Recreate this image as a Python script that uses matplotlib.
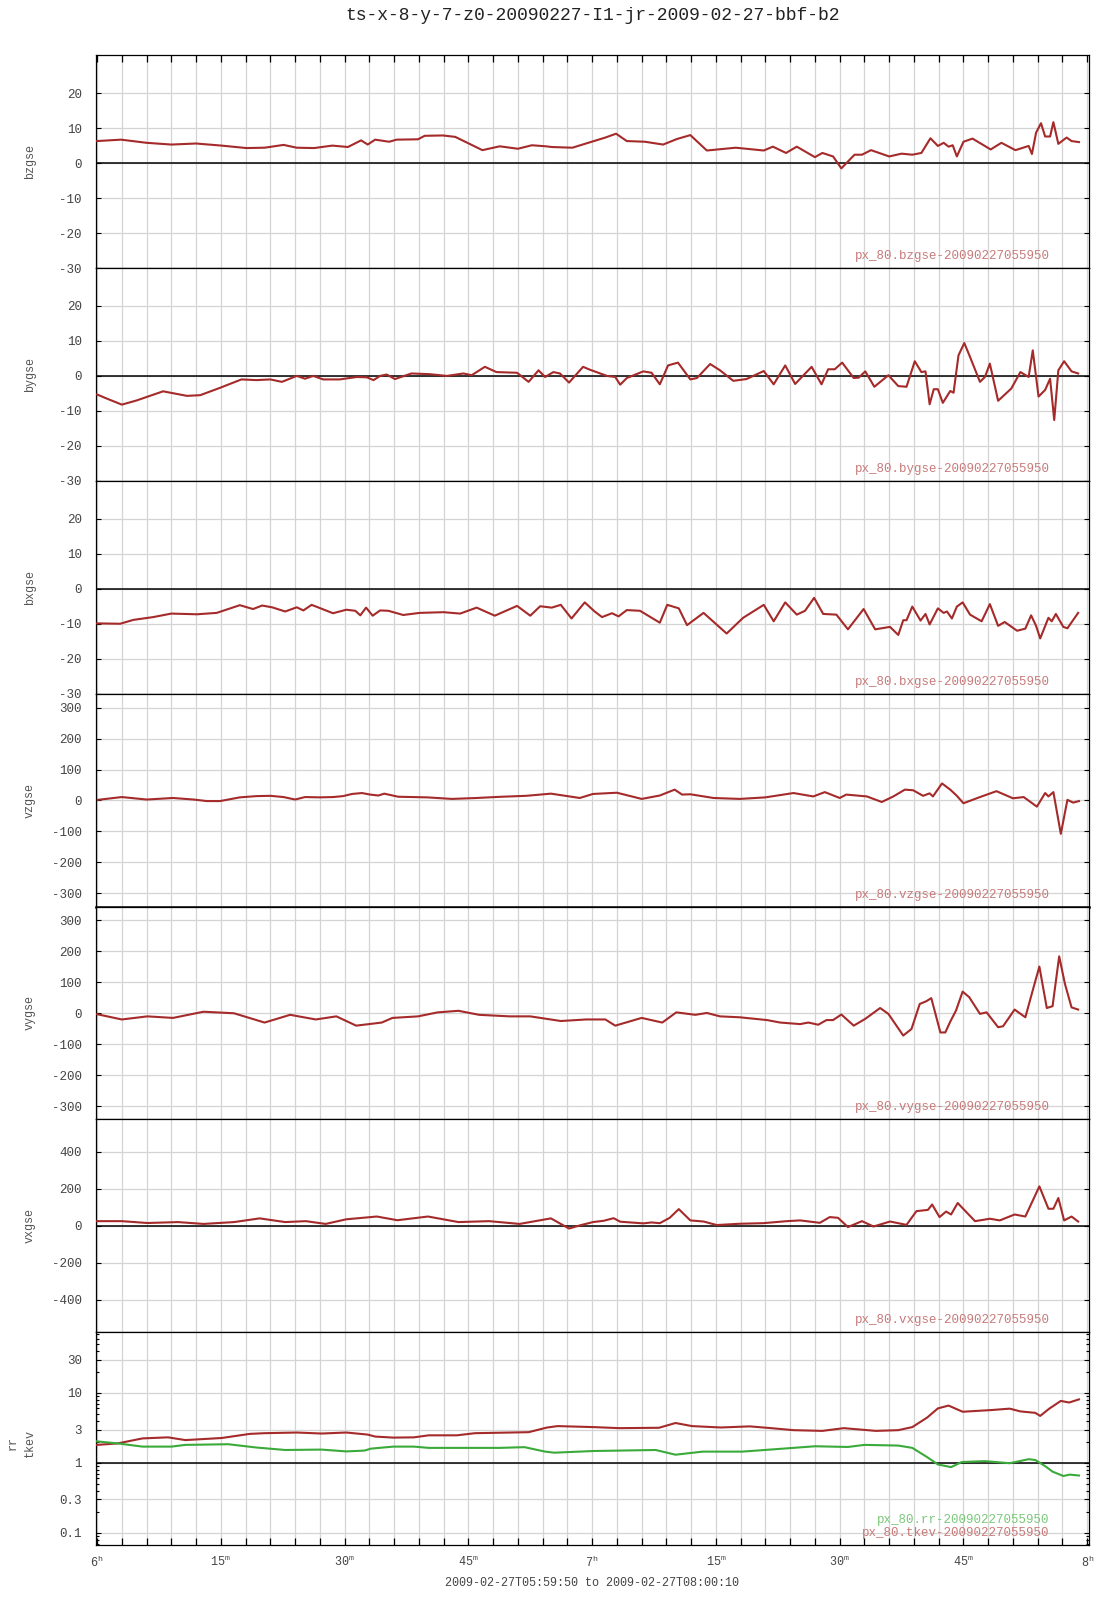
import matplotlib
matplotlib.use('Agg')
import matplotlib.pyplot as plt
import numpy as np
from matplotlib.ticker import FixedLocator, NullFormatter, NullLocator

plt.rcParams['font.family'] = ['Liberation Mono', 'DejaVu Sans Mono']
plt.rcParams['mathtext.fontset'] = 'custom'
plt.rcParams['mathtext.rm'] = 'Liberation Mono'
plt.rcParams['mathtext.it'] = 'Liberation Mono'

TITLE = "ts-x-8-y-7-z0-20090227-I1-jr-2009-02-27-bbf-b2"
XLABEL = "2009-02-27T05:59:50 to 2009-02-27T08:00:10"
XLIM = (-10 / 60, 120 + 10 / 60)   # minutes after 06:00
XMAJOR = [0, 15, 30, 45, 60, 75, 90, 105, 120]
XMAJOR_LABELS = [r"6$^{\mathrm{h}}$", r"15$^{\mathrm{m}}$", r"30$^{\mathrm{m}}$", r"45$^{\mathrm{m}}$",
                 r"7$^{\mathrm{h}}$", r"15$^{\mathrm{m}}$", r"30$^{\mathrm{m}}$", r"45$^{\mathrm{m}}$",
                 r"8$^{\mathrm{h}}$"]
XGRID_STEP = 3

# (minutes after 06:00, value)
bzgse = [(0, 6.3), (2.9, 6.7), (6, 5.8), (9, 5.3), (12, 5.6), (15.1, 5.0), (18.1, 4.3), (20.3, 4.4),
         (22.6, 5.2), (24.2, 4.4), (26.3, 4.3), (28.5, 5.0), (30.4, 4.6), (32, 6.5), (32.8, 5.3),
         (33.7, 6.7), (35.4, 6.1), (36.3, 6.7), (38.9, 6.8), (39.7, 7.8), (41.9, 7.9), (43.4, 7.5),
         (46.7, 3.7), (48.8, 4.8), (51, 4.1), (52.7, 5.1), (54.4, 4.8), (55.1, 4.6), (57.6, 4.4),
         (61.6, 7.3), (62.9, 8.4), (64.2, 6.3), (66.4, 6.1), (68.6, 5.3), (70.3, 6.9), (71.9, 8.0),
         (73.9, 3.6), (77.4, 4.4), (80.8, 3.6), (81.9, 4.7), (83.5, 2.9), (84.8, 4.7), (87, 1.7),
         (87.9, 2.9), (89.2, 1.9), (90.2, -1.5), (91.8, 2.4), (92.7, 2.4), (93.8, 3.7), (96, 1.9),
         (97.5, 2.7), (98.8, 2.4), (99.9, 2.9), (101, 7.1), (101.9, 4.9), (102.6, 5.8), (103.2, 4.7),
         (103.7, 5.1), (104.2, 1.9), (105, 6.1), (106.1, 7.0), (108.3, 3.9), (109.6, 5.8), (111.3, 3.7),
         (112.9, 4.9), (113.3, 2.6), (113.8, 8.7), (114.4, 11.4), (114.9, 7.6), (115.5, 7.6),
         (115.9, 11.7), (116.5, 5.5), (117.5, 7.3), (118.1, 6.3), (119, 6.0)]

bygse = [(0, -5.3), (1, -6.3), (3, -8.2), (4.8, -7), (8, -4.4), (10.9, -5.7), (12.5, -5.5), (14.9, -3.4),
         (17.5, -1), (19.3, -1.2), (21, -1), (22.4, -1.7), (24.2, 0), (25.2, -0.8), (26.2, 0), (27.4, -1),
         (29.4, -1), (31.5, -0.3), (32.7, -0.4), (33.5, -1.2), (34.3, 0), (35.1, 0.4), (36.1, -0.9),
         (38.1, 0.7), (40.3, 0.5), (42.4, 0), (44.4, 0.7), (45.4, 0.2), (47, 2.6), (48.4, 1.1), (50.9, 0.9),
         (52.3, -1.7), (53.5, 1.6), (54.3, -0.3), (55.3, 1.1), (56.1, 0.7), (57.2, -1.9), (58.9, 2.6),
         (59.7, 1.8), (61.8, 0), (62.8, -0.3), (63.4, -2.5), (64.2, -0.6), (66.2, 1.3), (67.2, 0.9),
         (68.2, -2.4), (69.2, 3.0), (70.4, 3.8), (71.9, -1), (72.7, -0.6), (74.3, 3.4), (75.5, 1.6),
         (77.1, -1.4), (78.7, -0.9), (80.8, 1.4), (82, -2.4), (83.4, 3.0), (84.6, -2.3), (86.6, 2.6),
         (87.8, -2.4), (88.6, 1.9), (89.4, 1.9), (90.3, 3.8), (91.7, -0.6), (92.3, -0.5), (93.1, 1.3),
         (94.2, -3.1), (95.9, 0.2), (97.1, -2.9), (98.1, -3.1), (99.1, 4.2), (99.9, 1.1), (100.4, 1.3),
         (100.9, -8.1), (101.4, -3.8), (101.9, -3.8), (102.5, -7.7), (103.4, -4.3), (103.8, -4.8),
         (104.4, 5.9), (105.1, 9.4), (105.8, 5.4), (107, -1.7), (107.6, -0.3), (108.2, 3.5), (109.2, -7.1),
         (110.8, -3.6), (111.9, 1.1), (112.9, -0.3), (113.4, 7.3), (114.1, -5.9), (114.9, -4),
         (115.5, -0.8), (116, -12.6), (116.5, 1.6), (117.2, 4.2), (118.1, 1.3), (118.9, 0.7)]

bxgse = [(0, -9.9), (2.8, -10), (4.4, -8.9), (6.8, -8.1), (9, -7.1), (12.1, -7.3), (14.5, -6.9),
         (17.3, -4.7), (18.9, -5.8), (20, -4.8), (21.2, -5.3), (22.8, -6.5), (24.2, -5.3), (25, -6.2),
         (26, -4.6), (28.6, -7), (30.2, -6), (31.3, -6.3), (31.9, -7.6), (32.6, -5.4), (33.4, -7.7),
         (34.3, -6.2), (35.3, -6.3), (37.1, -7.5), (39.1, -6.9), (42, -6.7), (44, -7.1), (46, -5.4),
         (48.2, -7.7), (50.9, -4.9), (52.5, -7.7), (53.7, -5), (55.1, -5.4), (56.2, -4.6), (57.5, -8.5),
         (59.1, -3.9), (60.3, -6.5), (61.2, -8.1), (62.4, -7), (63.2, -7.9), (64.2, -6.1), (65.8, -6.3),
         (68.2, -9.7), (69.1, -4.6), (70.5, -5.6), (71.5, -10.4), (73.5, -6.9), (76.3, -12.8),
         (78.3, -8.3), (80.8, -4.6), (82, -9.3), (83.4, -3.9), (84.8, -7.4), (85.8, -6.3), (86.9, -2.6),
         (88, -7.2), (89.6, -7.4), (91, -11.6), (92.9, -5.8), (94.3, -11.6), (96.1, -10.9), (97.1, -13.2),
         (97.7, -9), (98.1, -9), (98.8, -5.1), (99.8, -9.1), (100.4, -7.2), (100.9, -10.2), (101.9, -5.6),
         (102.6, -6.9), (103, -6.5), (103.6, -8.5), (104.2, -5.1), (104.9, -3.9), (105.8, -7.4),
         (107.2, -9.3), (108.2, -4.4), (109.2, -10.6), (110, -9.5), (111.5, -12), (112.5, -11.4),
         (113.2, -7.6), (113.8, -10.6), (114.3, -14.2), (115.3, -8.3), (115.7, -9.3), (116.2, -7.2),
         (117.1, -10.9), (117.6, -11.3), (118.9, -6.9)]

vzgse = [(0.1, 2), (3, 11), (6, 3), (9.2, 8), (11.7, 3), (13.3, -2), (14.9, -2), (17.3, 10), (19.3, 14),
         (21, 15), (22.6, 11), (24, 3), (25.2, 11), (27, 10), (28.6, 11), (29.8, 14), (30.9, 21),
         (32.1, 24), (33.1, 19), (34.1, 16), (34.8, 22), (36.5, 12), (40, 10), (43, 5), (46, 8), (49, 12),
         (52, 15), (55, 22), (58.5, 8), (60.1, 21), (63, 25), (66, 5), (68.2, 16), (70, 35), (70.9, 19),
         (71.9, 20), (74.7, 8), (77.9, 5), (81, 10), (84.4, 24), (86.8, 13), (88.2, 27), (90, 8),
         (90.8, 19), (93.3, 13), (95.1, -5), (96.5, 13), (97.9, 35), (98.9, 33), (100.1, 15), (100.9, 23),
         (101.3, 13), (102.4, 55), (103.4, 35), (104.2, 15), (105, -9), (107, 11), (109, 30), (111, 7),
         (112.3, 11), (113.9, -20), (114.9, 24), (115.3, 13), (115.9, 27), (116.8, -108), (117.6, 2),
         (118.3, -7), (119, -2)]

vygse = [(0, -3), (3, -20), (6.1, -10), (9.2, -15), (12.9, 5), (16.6, 0), (20.3, -30), (23.4, -5),
         (26.5, -20), (29, -10), (31.4, -40), (34.5, -30), (35.8, -15), (38.9, -10), (41.3, 3), (43.8, 8),
         (46.3, -5), (50, -10), (52.5, -10), (56.2, -25), (59.3, -20), (61.6, -20), (62.8, -40),
         (66, -15), (68.5, -30), (70.2, 3), (72.5, -5), (73.9, 1), (75.5, -10), (77.9, -13), (81.2, -22),
         (82.8, -30), (85.2, -35), (86.2, -30), (87.4, -37), (88.4, -22), (89.2, -22), (90.2, -4),
         (91.7, -40), (93.1, -18), (94.9, 17), (95.9, -2), (97.7, -72), (98.7, -51), (99.7, 30),
         (100.5, 39), (101.1, 49), (101.5, 9), (102.2, -62), (102.8, -62), (103.4, -27), (104.1, 9),
         (104.9, 70), (105.7, 52), (107, -2), (107.8, 3), (109.2, -45), (109.8, -42), (111.2, 12),
         (112.5, -13), (113.5, 84), (114.2, 151), (115.1, 17), (115.8, 23), (116.6, 184), (117.3, 95),
         (118.1, 19), (118.9, 12)]

vxgse = [(0, 25), (3, 25), (6.1, 15), (9.8, 20), (12.9, 10), (16.6, 20), (19.7, 40), (22.8, 20),
         (25.3, 25), (27.7, 10), (30.2, 35), (33.9, 50), (36.4, 30), (40.1, 50), (43.8, 20), (47.5, 25),
         (51.2, 10), (55, 40), (57.2, -15), (58.5, 2), (60.1, 20), (61.4, 27), (62.6, 41), (63.4, 22),
         (66.2, 13), (67.2, 18), (68.2, 14), (69.4, 43), (70.5, 90), (71.9, 29), (73.5, 23), (75.1, 4),
         (77.9, 11), (80.7, 14), (83.6, 25), (85.2, 29), (87.6, 16), (88.8, 47), (89.8, 43), (91, -7),
         (92.7, 25), (94.1, -4), (96.1, 23), (98.1, 5), (99.3, 79), (100.7, 86), (101.2, 115), (102.1, 47),
         (102.9, 77), (103.5, 61), (104.3, 123), (106.4, 25), (108.2, 38), (109.4, 29), (111.2, 61),
         (112.5, 50), (114.2, 213), (115.3, 92), (115.9, 92), (116.5, 150), (117.2, 29), (118.1, 50),
         (118.9, 23)]

tkev = [(0, 1.81), (2.5, 1.9), (5.5, 2.24), (8.6, 2.32), (10.7, 2.12), (15.1, 2.27), (18.5, 2.6),
        (20.3, 2.66), (24.2, 2.72), (27.2, 2.63), (30.2, 2.72), (32.8, 2.54), (33.7, 2.38), (35.9, 2.3),
        (38.4, 2.32), (40.2, 2.48), (43.6, 2.48), (45.8, 2.66), (52.3, 2.75), (54.5, 3.2), (55.8, 3.36),
        (60.2, 3.25), (63.3, 3.14), (68.1, 3.18), (70.1, 3.72), (72.1, 3.36), (75.6, 3.21), (79.1, 3.33),
        (81.7, 3.14), (84.4, 2.94), (87.9, 2.87), (90.5, 3.14), (94.4, 2.87), (97.1, 2.94), (98.8, 3.25),
        (100.6, 4.45), (101.9, 6.02), (103.2, 6.6), (104.9, 5.39), (108.4, 5.7), (110.6, 5.97),
        (111.9, 5.45), (113.7, 5.2), (114.3, 4.7), (115.4, 5.97), (116.8, 7.7), (117.8, 7.3), (119, 8.1)]

rr = [(0, 2.03), (2.5, 1.9), (5.5, 1.71), (9, 1.71), (10.7, 1.81), (15.9, 1.85), (19.3, 1.66),
      (22.8, 1.53), (27.2, 1.55), (30.2, 1.46), (32.4, 1.5), (33.2, 1.6), (35.9, 1.71), (38.4, 1.71),
      (40.2, 1.64), (44.5, 1.64), (48.8, 1.64), (51.8, 1.68), (54.3, 1.45), (55.4, 1.4), (60.2, 1.48),
      (67.7, 1.53), (70.1, 1.31), (73.4, 1.45), (78.2, 1.45), (82.2, 1.57), (87, 1.73), (91, 1.69),
      (93, 1.81), (97.1, 1.77), (98.8, 1.64), (100.6, 1.21), (101.9, 0.95), (103.5, 0.87), (104.8, 1.03),
      (107.6, 1.06), (110.6, 0.99), (112.9, 1.13), (113.7, 1.1), (114.9, 0.9), (115.8, 0.75),
      (117.1, 0.65), (117.9, 0.68), (119, 0.66)]

B_TICKS = [-30, -20, -10, 0, 10, 20]
VZY_TICKS = [-300, -200, -100, 0, 100, 200, 300]
VX_TICKS = [-400, -200, 0, 200, 400]
LOG_TICKS = [0.1, 0.3, 1, 3, 10, 30]
LOG_TICK_LABELS = ["0.1", "0.3", "1", "3", "10", "30"]

panels = [
    dict(name="bzgse", data=bzgse, ylim=(-30, 30.8), ticks=B_TICKS, zero=0, tag="px_80.bzgse-20090227055950"),
    dict(name="bygse", data=bygse, ylim=(-30, 30.8), ticks=B_TICKS, zero=0, tag="px_80.bygse-20090227055950"),
    dict(name="bxgse", data=bxgse, ylim=(-30, 30.8), ticks=B_TICKS, zero=0, tag="px_80.bxgse-20090227055950"),
    dict(name="vzgse", data=vzgse, ylim=(-343, 345), ticks=VZY_TICKS, zero=None, tag="px_80.vzgse-20090227055950"),
    dict(name="vygse", data=vygse, ylim=(-343, 345), ticks=VZY_TICKS, zero=None, tag="px_80.vygse-20090227055950"),
    dict(name="vxgse", data=vxgse, ylim=(-575, 575), ticks=VX_TICKS, zero=0, tag="px_80.vxgse-20090227055950"),
]

RED = "#a52a2a"
GREEN = "#3aaa3a"
TAG_RED = "#c87a7a"
TAG_GREEN = "#7ac87a"
GRID = "#d4d4d4"
TXT = "#444444"

W, H = 1107, 1600
fig = plt.figure(figsize=(W / 100, H / 100), dpi=100)
left, right = 95.7 / W, 1088.6 / W
top, bottom = 1 - 55.3 / H, 1 - 1545 / H
ph = (top - bottom) / 7

def style_axis(ax):
    ax.set_xlim(*XLIM)
    ax.xaxis.set_major_locator(NullLocator())
    for x in np.arange(0, 121, XGRID_STEP):
        ax.axvline(x, color=GRID, lw=0.9, zorder=0)
    for s in ax.spines.values():
        s.set_linewidth(0.9)
        s.set_color('black')
    ax.tick_params(axis='y', direction='in', length=3.5, width=0.8, left=True, right=True,
                   labelsize=9, labelcolor=TXT, pad=10)

axes = []
for i, p in enumerate(panels):
    ax = fig.add_axes([left, top - (i + 1) * ph, right - left, ph])
    style_axis(ax)
    t, v = zip(*p["data"])
    ax.plot(t, v, color=RED, lw=1.5, zorder=3, solid_joinstyle='round')
    ax.set_ylim(*p["ylim"])
    ax.set_yticks(p["ticks"])
    ax.set_yticklabels([str(k) for k in p["ticks"]])
    for yv in p["ticks"]:
        ax.axhline(yv, color=GRID, lw=0.9, zorder=0)
    if p["zero"] is not None:
        ax.axhline(p["zero"], color='black', lw=1.1, zorder=2)
    ax.text(0.961, 0.056, p["tag"], transform=ax.transAxes, ha='right', va='center',
            fontsize=9, color=TAG_RED, zorder=1)
    fig.text(30 / W, top - (i + 0.5) * ph, p["name"], rotation=90, ha='center', va='center',
             fontsize=8.5, color='#555555')
    axes.append(ax)

axes[3].spines['bottom'].set_linewidth(1.8)

# log panel
ax = fig.add_axes([left, bottom, right - left, ph])
style_axis(ax)
ax.set_yscale('log')
t, v = zip(*tkev)
ax.plot(t, v, color=RED, lw=1.5, zorder=3, solid_joinstyle='round')
t, v = zip(*rr)
ax.plot(t, v, color=GREEN, lw=1.5, zorder=3, solid_joinstyle='round')
ax.set_ylim(0.067, 74)
ax.yaxis.set_major_locator(FixedLocator(LOG_TICKS))
ax.set_yticklabels(LOG_TICK_LABELS)
minor = [m * 10.0 ** e for e in range(-2, 2) for m in range(2, 10)]
ax.yaxis.set_minor_locator(FixedLocator(minor))
ax.yaxis.set_minor_formatter(NullFormatter())
ax.tick_params(axis='y', which='minor', direction='in', length=2.5, width=0.8, left=True, right=True)
for yv in LOG_TICKS:
    ax.axhline(yv, color=GRID, lw=0.9, zorder=0)
ax.axhline(1, color='black', lw=1.1, zorder=2)
ax.text(0.961, 0.117, "px_80.rr-20090227055950", transform=ax.transAxes, ha='right', va='center',
        fontsize=9, color=TAG_GREEN, zorder=1)
ax.text(0.961, 0.056, "px_80.tkev-20090227055950", transform=ax.transAxes, ha='right', va='center',
        fontsize=9, color=TAG_RED, zorder=1)
fig.text(12.5 / W, bottom + 0.5 * ph - 0.003, "rr", rotation=90, ha='center', va='center', fontsize=8.5, color='#555555')
fig.text(30 / W, bottom + 0.5 * ph - 0.003, "tkev", rotation=90, ha='center', va='center', fontsize=8.5, color='#555555')
axes.append(ax)

# x ticks: top of first panel and bottom of last panel
ax = axes[-1]
ax.set_xticks(XMAJOR)
ax.set_xticklabels(XMAJOR_LABELS)
ax.xaxis.set_minor_locator(FixedLocator(np.arange(0, 121, XGRID_STEP)))
ax.tick_params(axis='x', which='major', direction='in', length=5, width=0.9, labelsize=8.5,
               labelcolor=TXT, pad=7, bottom=True, top=False)
ax.tick_params(axis='x', which='minor', direction='in', length=5, width=0.9, bottom=True, top=False)
axt = axes[0]
axt.xaxis.set_minor_locator(FixedLocator(np.arange(0, 121, XGRID_STEP)))
axt.tick_params(axis='x', which='minor', direction='in', length=5, width=0.9, bottom=False, top=True,
                labelbottom=False)

fig.text(0.5 * (left + right), 1 - 15 / H, TITLE, ha='center', va='center', fontsize=13, color='#222222')
fig.text(0.5 * (left + right), 1 - 1583 / H, XLABEL, ha='center', va='center', fontsize=8.5, color=TXT)

fig.savefig("out.png", dpi=100)
